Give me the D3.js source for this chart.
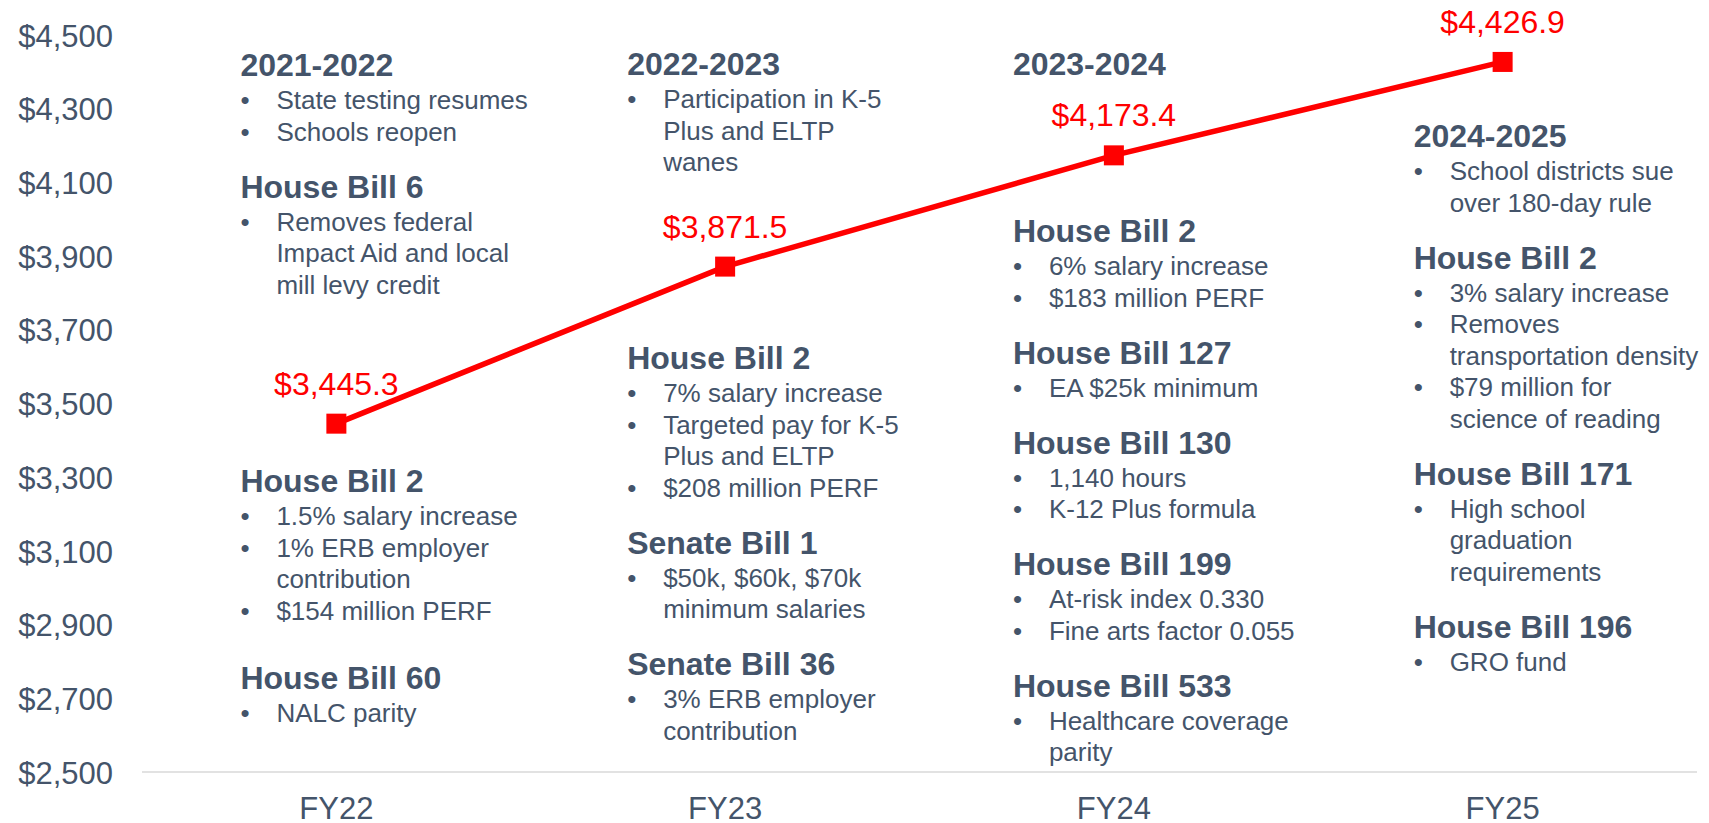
<!DOCTYPE html>
<html lang="en">
  <head>
    <meta charset="UTF-8" />
    <title>Program cost FY22-FY25</title>
    <script src="https://d3js.org/d3.v7.min.js"></script>
    <style>
      body {
        margin: 0;
        padding: 0;
        background: #fff;
        overflow: hidden;
      }
      svg {
        display: block;
        font-family: "Liberation Sans", Arial, sans-serif;
      }
    </style>
  </head>
  <body>
    <svg width="1709" height="823"></svg>
    <script>
      // data
      const years = ["FY22", "FY23", "FY24", "FY25"];
      const costs = [3445.3, 3871.5, 4173.4, 4426.9];
      const yTicks = [2500, 2700, 2900, 3100, 3300, 3500, 3700, 3900, 4100, 4300, 4500];

      // notes per year: groups of blocks, each bullet is a list of wrapped lines
      const notesFY22 = [
        [
          { title: "2021-2022", bullets: [["State testing resumes"], ["Schools reopen"]] },
          { title: "House Bill 6", bullets: [["Removes federal", "Impact Aid and local", "mill levy credit"]] }
        ],
        [
          { title: "House Bill 2", bullets: [["1.5% salary increase"], ["1% ERB employer", "contribution"], ["$154 million PERF"]] }
        ],
        [
          { title: "House Bill 60", bullets: [["NALC parity"]] }
        ]
      ];
      const notesFY23 = [
        [
          { title: "2022-2023", bullets: [["Participation in K-5", "Plus and ELTP", "wanes"]] }
        ],
        [
          { title: "House Bill 2", bullets: [["7% salary increase"], ["Targeted pay for K-5", "Plus and ELTP"], ["$208 million PERF"]] },
          { title: "Senate Bill 1", bullets: [["$50k, $60k, $70k", "minimum salaries"]] },
          { title: "Senate Bill 36", bullets: [["3% ERB employer", "contribution"]] }
        ]
      ];
      const notesFY24 = [
        [
          { title: "2023-2024", bullets: [] }
        ],
        [
          { title: "House Bill 2", bullets: [["6% salary increase"], ["$183 million PERF"]] },
          { title: "House Bill 127", bullets: [["EA $25k minimum"]] },
          { title: "House Bill 130", bullets: [["1,140 hours"], ["K-12 Plus formula"]] },
          { title: "House Bill 199", bullets: [["At-risk index 0.330"], ["Fine arts factor 0.055"]] },
          { title: "House Bill 533", bullets: [["Healthcare coverage", "parity"]] }
        ]
      ];
      const notesFY25 = [
        [
          { title: "2024-2025", bullets: [["School districts sue", "over 180-day rule"]] },
          { title: "House Bill 2", bullets: [["3% salary increase"], ["Removes", "transportation density"], ["$79 million for", "science of reading"]] },
          { title: "House Bill 171", bullets: [["High school", "graduation", "requirements"]] },
          { title: "House Bill 196", bullets: [["GRO fund"]] }
        ]
      ];
      const notes = [notesFY22, notesFY23, notesFY24, notesFY25];

      // layout
      const textColor = "#44546A";
      const red = "#FF0000";
      const margin = { top: 35, right: 12, bottom: 51, left: 142 };
      const W = 1709, H = 823;
      const groupTops = [[76, 492, 689], [75, 369], [75, 242], [147]];
      const colOffset = [-96, -98, -101, -89]; // column left edge relative to the point
      const indent = 36;
      const lineGap = 31.5, titleGap = 33, blockGap = 57;

      const svg = d3.select("svg");

      const x = d3.scaleBand().domain(years).range([margin.left, W - margin.right]);
      const y = d3.scaleLinear().domain([2500, 4500]).range([H - margin.bottom, margin.top]);
      const cx = (yr) => x(yr) + x.bandwidth() / 2;

      function addText(g, tx, ty, str, opts) {
        return g.append("text")
          .attr("x", tx)
          .attr("y", ty)
          .attr("font-size", opts.size)
          .attr("font-weight", opts.bold ? "bold" : "normal")
          .attr("fill", opts.color || textColor)
          .attr("text-anchor", opts.anchor || "start")
          .text(str);
      }

      // baseline
      svg.append("line")
        .attr("x1", margin.left).attr("x2", W - margin.right)
        .attr("y1", y(2500)).attr("y2", y(2500))
        .attr("stroke", "#D9D9D9")
        .attr("stroke-width", 1.5);

      // y axis labels
      const yAxis = svg.append("g")
        .attr("transform", "translate(113,0)")
        .call(d3.axisLeft(y).tickValues(yTicks).tickSize(0).tickPadding(0)
          .tickFormat((d) => "$" + d3.format(",")(d)));
      yAxis.select(".domain").remove();
      yAxis.selectAll("text")
        .attr("font-family", "Liberation Sans, Arial, sans-serif")
        .attr("font-size", 31)
        .attr("fill", textColor)
        .attr("x", 0)
        .attr("dy", "0.36em");

      // x axis labels
      const xAxis = svg.append("g")
        .attr("transform", `translate(0,${y(2500)})`)
        .call(d3.axisBottom(x).tickSize(0));
      xAxis.select(".domain").remove();
      xAxis.selectAll("text")
        .attr("font-family", "Liberation Sans, Arial, sans-serif")
        .attr("font-size", 31)
        .attr("fill", textColor)
        .attr("y", 47)
        .attr("dy", 0);

      // notes
      const noteLayer = svg.append("g");
      years.forEach((yr, i) => {
        const left = cx(yr) + colOffset[i];
        notes[i].forEach((group, gi) => {
          let ty = groupTops[i][gi];
          group.forEach((block) => {
            addText(noteLayer, left, ty, block.title, { size: 32, bold: true });
            let ly = ty + titleGap;
            block.bullets.forEach((lines) => {
              addText(noteLayer, left, ly, "\u2022", { size: 26 });
              lines.forEach((l) => {
                addText(noteLayer, left + indent, ly, l, { size: 26 });
                ly += lineGap;
              });
            });
            ty = ly - lineGap + blockGap;
          });
        });
      });

      // line + markers
      const series = years.map((yr, i) => ({ year: yr, value: costs[i] }));
      const line = d3.line()
        .x((d) => cx(d.year))
        .y((d) => y(d.value));

      svg.append("path")
        .datum(series)
        .attr("d", line)
        .attr("fill", "none")
        .attr("stroke", red)
        .attr("stroke-width", 5.5);

      svg.selectAll(".marker")
        .data(series)
        .enter()
        .append("rect")
        .attr("class", "marker")
        .attr("x", (d) => cx(d.year) - 10)
        .attr("y", (d) => y(d.value) - 10)
        .attr("width", 20)
        .attr("height", 20)
        .attr("fill", red);

      series.forEach((d) => {
        addText(svg, cx(d.year), y(d.value) - 29, "$" + d3.format(",.1f")(d.value),
          { size: 32, color: red, anchor: "middle" });
      });
    </script>
  </body>
</html>
